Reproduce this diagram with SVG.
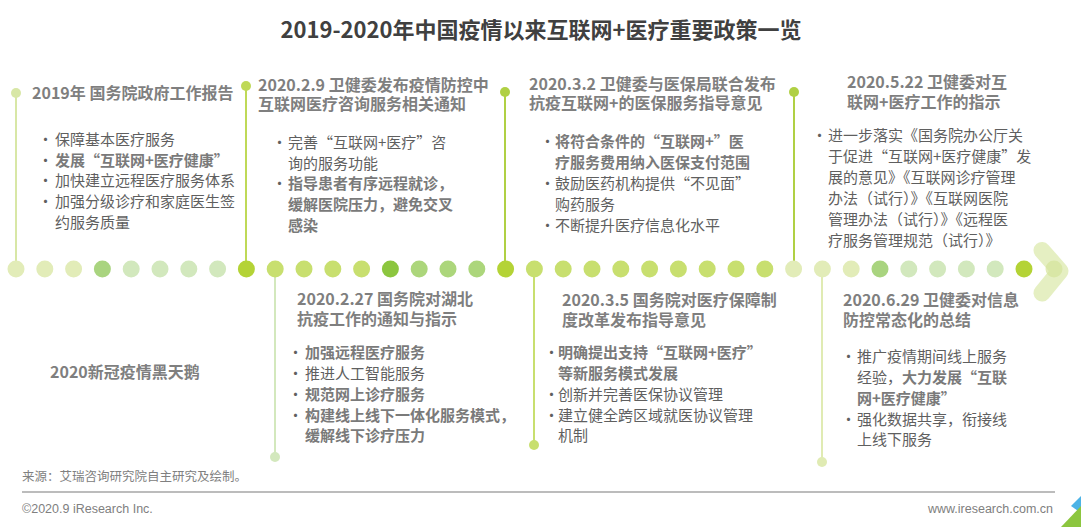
<svg xmlns="http://www.w3.org/2000/svg" width="1081" height="527" viewBox="0 0 1081 527">
<style>
text{font-family:"Noto Sans CJK SC","Noto Sans",sans-serif;}
.title{font-size:22px;font-weight:700;fill:#404040;}
.nt{font-size:16px;font-weight:700;fill:#7f7f7f;}
.b{font-size:15px;fill:#5f5f5f;}
.bb{font-weight:700;fill:#7a7a7a;}
.dot{stroke:none;}
.foot{font-family:"Liberation Sans",Arial,sans-serif;font-size:12.5px;fill:#808080;}
</style>
<rect width="1081" height="527" fill="#ffffff"/>
<text class="title" x="541" y="38" text-anchor="middle">2019-2020年中国疫情以来互联网+医疗重要政策一览</text>

<g id="connectors" stroke-width="2" fill="none">
  <line x1="16" y1="93" x2="16" y2="262" stroke="#d8e7a6"/>
  <line x1="246" y1="86" x2="246" y2="262" stroke="#bfd957"/>
  <line x1="505" y1="92" x2="505" y2="262" stroke="#b0d044"/>
  <line x1="794" y1="92" x2="794" y2="262" stroke="#b0d044"/>
  <line x1="275" y1="277" x2="275" y2="457" stroke="#d3e8bd"/>
  <line x1="534" y1="277" x2="534" y2="445" stroke="#c8df6f"/>
  <line x1="822" y1="277" x2="822" y2="462" stroke="#e0ebb3"/>
  <circle cx="16" cy="93" r="5" fill="#d8e7a6"/>
  <circle cx="246" cy="86" r="5" fill="#bfd957"/>
  <circle cx="505" cy="92" r="5" fill="#b0d044"/>
  <circle cx="794" cy="92" r="5" fill="#b0d044"/>
  <circle cx="275" cy="457" r="5" fill="#d3e8bd"/>
  <circle cx="534" cy="445" r="5" fill="#c8df6f"/>
  <circle cx="822" cy="462" r="5" fill="#e0ebb3"/>
</g>

<g id="timeline">
  <g class="dot">
    <circle cx="16" cy="269" r="8.5" fill="#e2ecb8"/>
    <circle cx="44.8" cy="269" r="8.5" fill="#e2ecb8"/>
    <circle cx="73.6" cy="269" r="8.5" fill="#e2ecb8"/>
    <circle cx="102.4" cy="269" r="8.5" fill="#a9d47f"/>
    <circle cx="131.2" cy="269" r="8.5" fill="#d2e8bd"/>
    <circle cx="160" cy="269" r="8.5" fill="#d2e8bd"/>
    <circle cx="188.8" cy="269" r="8.5" fill="#d2e8bd"/>
    <circle cx="217.6" cy="269" r="8.5" fill="#d2e8bd"/>
    <circle cx="246.4" cy="269" r="8.5" fill="#b4d336"/>
    <circle cx="275.2" cy="269" r="8.5" fill="#c8df6f"/>
    <circle cx="304" cy="269" r="8.5" fill="#c8df6f"/>
    <circle cx="332.8" cy="269" r="8.5" fill="#c8df6f"/>
    <circle cx="361.6" cy="269" r="8.5" fill="#c8df6f"/>
    <circle cx="390.4" cy="269" r="8.5" fill="#8cc63f"/>
    <circle cx="419.2" cy="269" r="8.5" fill="#acd67b"/>
    <circle cx="448" cy="269" r="8.5" fill="#acd67b"/>
    <circle cx="476.8" cy="269" r="8.5" fill="#acd67b"/>
    <circle cx="505.6" cy="269" r="8.5" fill="#b4d336"/>
    <circle cx="534.4" cy="269" r="8.5" fill="#c8df6f"/>
    <circle cx="563.2" cy="269" r="8.5" fill="#c8df6f"/>
    <circle cx="592" cy="269" r="8.5" fill="#c8df6f"/>
    <circle cx="620.8" cy="269" r="8.5" fill="#c8df6f"/>
    <circle cx="649.6" cy="269" r="8.5" fill="#c8df6f"/>
    <circle cx="678.4" cy="269" r="8.5" fill="#c8df6f"/>
    <circle cx="707.2" cy="269" r="8.5" fill="#c8df6f"/>
    <circle cx="736" cy="269" r="8.5" fill="#c8df6f"/>
    <circle cx="764.8" cy="269" r="8.5" fill="#c8df6f"/>
    <circle cx="793.6" cy="269" r="8.5" fill="#e2ecb8"/>
    <circle cx="822.4" cy="269" r="8.5" fill="#e2ecb8"/>
    <circle cx="851.2" cy="269" r="8.5" fill="#e2ecb8"/>
    <circle cx="880" cy="269" r="8.5" fill="#a9d47f"/>
    <circle cx="908.8" cy="269" r="8.5" fill="#d2e8bd"/>
    <circle cx="937.6" cy="269" r="8.5" fill="#d2e8bd"/>
    <circle cx="966.4" cy="269" r="8.5" fill="#d2e8bd"/>
    <circle cx="995.2" cy="269" r="8.5" fill="#d2e8bd"/>
    <circle cx="1024" cy="269" r="8.5" fill="#b4d336"/>
    <circle cx="1054" cy="269" r="8.5" fill="#e2ecb8"/>
  </g>
  <polyline points="1042,250.5 1060,271 1042,293" fill="none" stroke="#d3e59a" stroke-opacity="0.6" stroke-width="17" stroke-linecap="round" stroke-linejoin="round"/>
</g>

<g id="node-2019">
  <text class="nt" x="32" y="99">2019年 国务院政府工作报告</text>
  <text class="b" x="38" y="145">•</text><text class="b" x="55" y="145">保障基本医疗服务</text>
  <text class="b" x="38" y="165.5">•</text><text class="b bb" x="55" y="165.5">发展“互联网+医疗健康”</text>
  <text class="b" x="38" y="186">•</text><text class="b" x="55" y="186">加快建立远程医疗服务体系</text>
  <text class="b" x="38" y="207">•</text><text class="b" x="55" y="207">加强分级诊疗和家庭医生签<tspan x="55" dy="21">约服务质量</tspan></text>
</g>

<g id="node-2020-2-9">
  <text class="nt" x="258" y="91">2020.2.9 卫健委发布疫情防控中<tspan x="258" dy="19">互联网医疗咨询服务相关通知</tspan></text>
  <text class="b" x="272" y="148">•</text><text class="b" x="288" y="148">完善“互联网+医疗”咨<tspan x="288" dy="20.5">询的服务功能</tspan></text>
  <text class="b" x="272" y="189">•</text><text class="b bb" x="288" y="189">指导患者有序远程就诊，<tspan x="288" dy="21">缓解医院压力，避免交叉</tspan><tspan x="288" dy="21">感染</tspan></text>
</g>

<g id="node-2020-3-2">
  <text class="nt" x="529" y="90">2020.3.2 卫健委与医保局联合发布<tspan x="529" dy="19">抗疫互联网+的医保服务指导意见</tspan></text>
  <text class="b" x="540" y="147">•</text><text class="b bb" x="555" y="147">将符合条件的“互联网+”医<tspan x="555" dy="21">疗服务费用纳入医保支付范围</tspan></text>
  <text class="b" x="540" y="189">•</text><text class="b" x="555" y="189">鼓励医药机构提供“不见面”<tspan x="555" dy="21">购药服务</tspan></text>
  <text class="b" x="540" y="231">•</text><text class="b" x="555" y="231">不断提升医疗信息化水平</text>
</g>

<g id="node-2020-5-22">
  <text class="nt" x="847" y="88">2020.5.22 卫健委对互<tspan x="847" dy="20">联网+医疗工作的指示</tspan></text>
  <text class="b" x="812" y="141">•</text>
  <text class="b" x="828" y="141">进一步落实《国务院办公厅关<tspan x="828" dy="21">于促进“互联网+医疗健康”发</tspan><tspan x="828" dy="21">展的意见》《互联网诊疗管理</tspan><tspan x="828" dy="21">办法（试行）》《互联网医院</tspan><tspan x="828" dy="21">管理办法（试行）》《远程医</tspan><tspan x="828" dy="21">疗服务管理规范（试行）》</tspan></text>
</g>

<g id="node-2020-2-27">
  <text class="nt" x="297" y="305">2020.2.27 国务院对湖北<tspan x="297" dy="20">抗疫工作的通知与指示</tspan></text>
  <text class="b" x="288" y="358">•</text><text class="b bb" x="305" y="358">加强远程医疗服务</text>
  <text class="b" x="288" y="379">•</text><text class="b" x="305" y="379">推进人工智能服务</text>
  <text class="b" x="288" y="400">•</text><text class="b bb" x="305" y="400">规范网上诊疗服务</text>
  <text class="b" x="288" y="420.5">•</text><text class="b bb" x="305" y="420.5">构建线上线下一体化服务模式，<tspan x="305" dy="20.5">缓解线下诊疗压力</tspan></text>
</g>

<g id="node-2020-3-5">
  <text class="nt" x="562" y="306">2020.3.5 国务院对医疗保障制<tspan x="562" dy="20">度改革发布指导意见</tspan></text>
  <text class="b" x="544" y="358">•</text><text class="b bb" x="558" y="358">明确提出支持“互联网+医疗”<tspan x="558" dy="21">等新服务模式发展</tspan></text>
  <text class="b" x="544" y="400">•</text><text class="b" x="558" y="400">创新并完善医保协议管理</text>
  <text class="b" x="544" y="420.5">•</text><text class="b" x="558" y="420.5">建立健全跨区域就医协议管理<tspan x="558" dy="20.5">机制</tspan></text>
</g>

<g id="node-2020-6-29">
  <text class="nt" x="843" y="306">2020.6.29 卫健委对信息<tspan x="843" dy="20">防控常态化的总结</tspan></text>
  <text class="b" x="841" y="362">•</text><text class="b" x="857" y="362">推广疫情期间线上服务<tspan x="857" dy="21">经验，</tspan><tspan class="bb">大力发展“互联</tspan><tspan class="bb" x="857" dy="21">网+医疗健康”</tspan></text>
  <text class="b" x="841" y="424.5">•</text><text class="b" x="857" y="424.5">强化数据共享，衔接线<tspan x="857" dy="20.5">上线下服务</tspan></text>
</g>

<g id="node-blackswan">
  <text class="nt" x="50" y="378">2020新冠疫情黑天鹅</text>
</g>

<g id="footer">
  <text x="22" y="481" style="font-size:12.5px;fill:#808080">来源：艾瑞咨询研究院自主研究及绘制。</text>
  <line x1="22" y1="492" x2="1055" y2="492" stroke="#a6a6a6" stroke-width="1.5"/>
  <text class="foot" x="22" y="513">©2020.9 iResearch Inc.</text>
  <text class="foot" x="1053" y="513" text-anchor="end">www.iresearch.com.cn</text>
  <polygon points="1081,496 1071,506 1081,513" fill="#4db3e6"/>
  <polygon points="1061,527 1081,506 1081,527" fill="#8cc63f"/>
</g>
</svg>
